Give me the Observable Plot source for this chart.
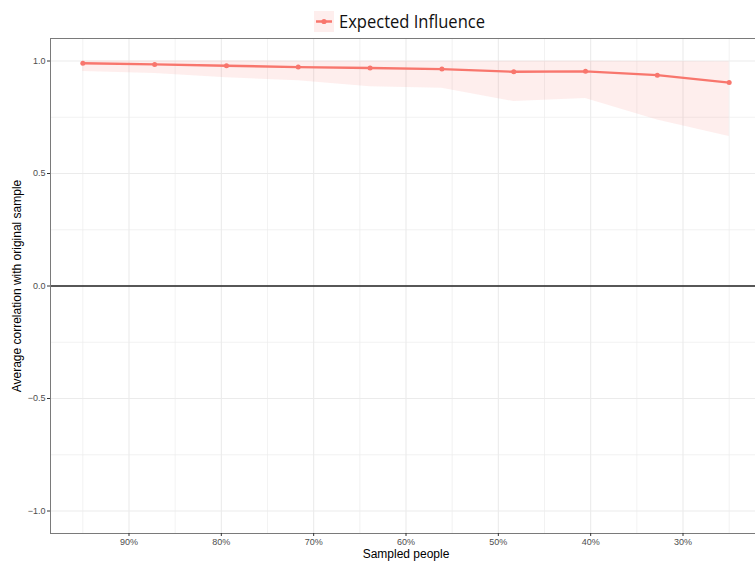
<!DOCTYPE html>
<html><head><meta charset="utf-8">
<script src="https://cdn.jsdelivr.net/npm/d3@7"></script>
<script src="https://cdn.jsdelivr.net/npm/@observablehq/plot@0.6"></script>
<style>
body{margin:0;background:#fff;}
#legend{height:37px;width:755px;}
#chart svg{display:block;}
</style>
</head><body>
<div id="legend"></div><div id="chart"></div>
<script>
// proportion of people sampled
const sampled = [0.95, 0.8722, 0.7944, 0.7167, 0.6389, 0.5611, 0.4833, 0.4056, 0.3278, 0.25];
// average correlation with original sample
const meanCor  = [0.990, 0.985, 0.979, 0.973, 0.969, 0.964, 0.952, 0.954, 0.937, 0.904];
const lowerCor = [0.953, 0.945, 0.926, 0.912, 0.886, 0.879, 0.820, 0.833, 0.738, 0.664];
const upperCor = [1.000, 1.000, 1.000, 0.999, 0.999, 0.999, 0.999, 0.999, 0.998, 0.997];
const xTicks = [0.9, 0.8, 0.7, 0.6, 0.5, 0.4, 0.3];
const xMinor = [0.95, 0.85, 0.75, 0.65, 0.55, 0.45, 0.35, 0.25];
const yTicks = [-1, -0.5, 0, 0.5, 1];
const yMinor = [-0.75, -0.25, 0.25, 0.75];
const seriesName = "Expected Influence";
const xTitle = "Sampled people";
const yTitle = "Average correlation with original sample";
const red = "#F8766D";

const data = sampled.map((s, i) => ({s, mean: meanCor[i], lo: lowerCor[i], hi: upperCor[i]}));

// legend
const lg = d3.select("#legend").append("svg").attr("width", 755).attr("height", 37);
lg.append("rect").attr("x", 314).attr("y", 11).attr("width", 20).attr("height", 21).attr("fill", red).attr("fill-opacity", 0.12);
lg.append("line").attr("x1", 316).attr("x2", 332).attr("y1", 21.5).attr("y2", 21.5).attr("stroke", red).attr("stroke-width", 2.5);
lg.append("circle").attr("cx", 324).attr("cy", 21.5).attr("r", 2.6).attr("fill", red);
lg.append("text").attr("x", 339).attr("y", 28).attr("font-family", "'Open Sans', 'Noto Sans', sans-serif")
  .attr("font-size", 18).attr("fill", "#111").attr("textLength", 146).attr("lengthAdjust", "spacingAndGlyphs").text(seriesName);

const chart = Plot.plot({
  width: 755, height: 524,
  marginTop: 1, marginLeft: 50, marginRight: -6, marginBottom: 28,
  style: {fontFamily: "'Liberation Sans', Arial, sans-serif", background: "white", overflow: "hidden"},
  x: {domain: [0.985, 0.215]},
  y: {domain: [-1.1, 1.1]},
  marks: [
    Plot.gridX(xMinor, {stroke: "#ececec", strokeOpacity: 1, strokeWidth: 0.7}),
    Plot.gridY(yMinor, {stroke: "#ececec", strokeOpacity: 1, strokeWidth: 0.7}),
    Plot.gridX(xTicks, {stroke: "#ebebeb", strokeOpacity: 1, strokeWidth: 1.1}),
    Plot.gridY(yTicks, {stroke: "#ebebeb", strokeOpacity: 1, strokeWidth: 1.1}),
    Plot.areaY(data, {x: "s", y1: "lo", y2: "hi", fill: red, fillOpacity: 0.12}),
    Plot.ruleY([0], {stroke: "#222", strokeWidth: 1.3}),
    Plot.line(data, {x: "s", y: "mean", stroke: red, strokeWidth: 2.4}),
    Plot.dot(data, {x: "s", y: "mean", fill: red, r: 2.5}),
    Plot.frame({stroke: "#7a7a7a", strokeWidth: 1}),
    Plot.axisX(xTicks, {tickSize: 3, tickPadding: 2, fontSize: 9, color: "#4d4d4d", stroke: "#333", tickFormat: d => Math.round(d * 100) + "%", label: null}),
    Plot.axisY(yTicks, {tickSize: 3, tickPadding: 2, fontSize: 9, color: "#4d4d4d", stroke: "#333", tickFormat: d3.format(".1f"), label: null}),
    Plot.text([xTitle], {frameAnchor: "bottom", dy: 21, lineAnchor: "middle", fontSize: 12, fill: "#000", text: d => d}),
    Plot.text([yTitle], {frameAnchor: "left", dx: -33, rotate: -90, textAnchor: "middle", lineAnchor: "middle", fontSize: 12, fill: "#000", text: d => d})
  ]
});
document.getElementById("chart").appendChild(chart);
</script>
</body></html>
